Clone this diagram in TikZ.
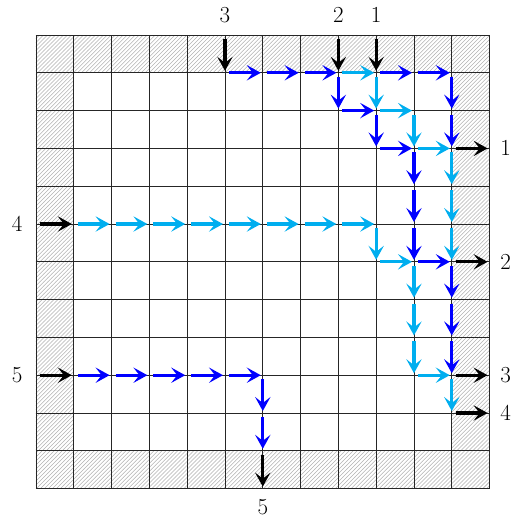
\documentclass[tikz,border=0pt]{standalone}
\usepackage{xcolor}
\usetikzlibrary{arrows.meta,patterns}

\definecolor{lightblue}{RGB}{0,174,239}

\begin{document}
\begin{tikzpicture}[
    flow/.style={-{Stealth[length=10.5pt,width=11.5pt,inset=4.5pt]}, line width=2.4pt,
      shorten <=3pt, shorten >=1.5pt},
    darkflow/.style={flow, color=blue},
    lightflow/.style={flow, color=lightblue},
    portflow/.style={flow, color=black},
    portlabel/.style={font=\LARGE, inner sep=2pt},
    gridline/.style={line width=0.7pt, color=black!85}
  ]
  \useasboundingbox (-0.952,0.926) rectangle (12.672,-12.857);

  % Hatched border ring and grid
  \fill[pattern=north east lines, pattern color=gray!60, even odd rule]
    (0,0) rectangle (12,-12) (1,-1) rectangle (11,-11);
  \draw[gridline] (0,0) grid (12,-12);

  % Grid points
  \foreach \i in {0,...,12}
    \foreach \j in {0,...,12}
      \coordinate (p\i-\j) at (\i,-\j);

  % Port labels
  \node[portlabel, above=7pt] (top3) at (p5-0) {3};
  \node[portlabel, above=7pt] (top2) at (p8-0) {2};
  \node[portlabel, above=7pt] (top1) at (p9-0) {1};
  \node[portlabel, right=6pt] (right1) at (p12-3) {1};
  \node[portlabel, right=6pt] (right2) at (p12-6) {2};
  \node[portlabel, right=6pt] (right3) at (p12-9) {3};
  \node[portlabel, right=6pt] (right4) at (p12-10) {4};
  \node[portlabel, left=8pt] (left4) at (p0-5) {4};
  \node[portlabel, left=8pt] (left5) at (p0-9) {5};
  \node[portlabel, below=6pt] (bottom5) at (p6-12) {5};

  % Inputs and outputs
  \draw[portflow] (p5-0) -- (p5-1);
  \draw[portflow] (p8-0) -- (p8-1);
  \draw[portflow] (p9-0) -- (p9-1);
  \draw[portflow] (p0-5) -- (p1-5);
  \draw[portflow] (p0-9) -- (p1-9);
  \draw[portflow] (p11-3) -- (p12-3);
  \draw[portflow] (p11-6) -- (p12-6);
  \draw[portflow] (p11-9) -- (p12-9);
  \draw[portflow] (p11-10) -- (p12-10);
  \draw[portflow] (p6-11) -- (p6-12);

  % Dark blue flows
  \foreach \a/\b in {5/6,6/7,7/8,9/10,10/11}
    \draw[darkflow] (p\a-1) -- (p\b-1);
  \draw[darkflow] (p8-1) -- (p8-2);
  \draw[darkflow] (p8-2) -- (p9-2);
  \draw[darkflow] (p9-2) -- (p9-3);
  \draw[darkflow] (p9-3) -- (p10-3);
  \foreach \a/\b in {3/4,4/5,5/6}
    \draw[darkflow] (p10-\a) -- (p10-\b);
  \draw[darkflow] (p10-6) -- (p11-6);
  \foreach \a/\b in {1/2,2/3,6/7,7/8,8/9}
    \draw[darkflow] (p11-\a) -- (p11-\b);
  \foreach \a/\b in {1/2,2/3,3/4,4/5,5/6}
    \draw[darkflow] (p\a-9) -- (p\b-9);
  \draw[darkflow] (p6-9) -- (p6-10);
  \draw[darkflow] (p6-10) -- (p6-11);

  % Light blue flows
  \draw[lightflow] (p8-1) -- (p9-1);
  \draw[lightflow] (p9-1) -- (p9-2);
  \draw[lightflow] (p9-2) -- (p10-2);
  \draw[lightflow] (p10-2) -- (p10-3);
  \draw[lightflow] (p10-3) -- (p11-3);
  \foreach \a/\b in {3/4,4/5,5/6,9/10}
    \draw[lightflow] (p11-\a) -- (p11-\b);
  \foreach \a/\b in {1/2,2/3,3/4,4/5,5/6,6/7,7/8,8/9}
    \draw[lightflow] (p\a-5) -- (p\b-5);
  \draw[lightflow] (p9-5) -- (p9-6);
  \draw[lightflow] (p9-6) -- (p10-6);
  \foreach \a/\b in {6/7,7/8,8/9}
    \draw[lightflow] (p10-\a) -- (p10-\b);
  \draw[lightflow] (p10-9) -- (p11-9);

\end{tikzpicture}
\end{document}
